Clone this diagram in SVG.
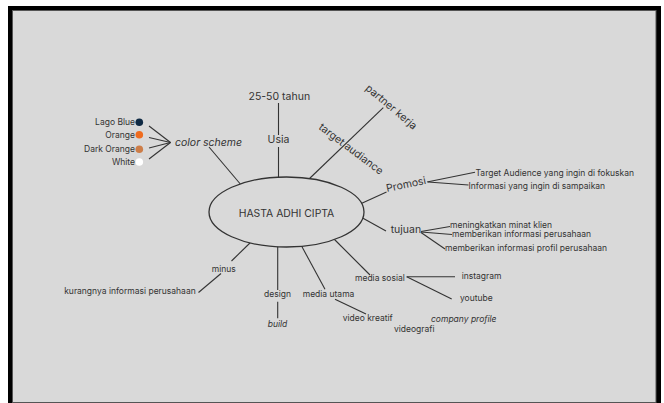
<svg xmlns="http://www.w3.org/2000/svg" width="664" height="403" viewBox="0 0 664 403">
<style>
.t{font-family:Inter,"Liberation Sans",sans-serif;fill:#333;font-size:8.5px}
.l{font-size:10.5px}
.i{font-style:italic}
.c line{stroke:#333;stroke-width:1.1;fill:none}
</style>
<rect width="664" height="403" fill="#fff"/>
<rect x="8" y="6" width="653" height="400" fill="#000"/>
<rect x="12.5" y="10.5" width="643.5" height="392" fill="#d9d9d9" stroke="#555"/>
<g id="connectors" class="c">
<line x1="149" y1="126" x2="170.5" y2="142.5"/>
<line x1="149" y1="137.5" x2="170.5" y2="142.5"/>
<line x1="149" y1="148" x2="170.5" y2="142.5"/>
<line x1="149" y1="159" x2="170.5" y2="142.5"/>
<line x1="209" y1="147" x2="242" y2="186"/>
<line x1="278.5" y1="103" x2="278.5" y2="135"/>
<line x1="278.5" y1="147" x2="278.5" y2="180"/>
<line x1="308" y1="180" x2="383.3" y2="107.7"/>
<line x1="358" y1="205" x2="386.5" y2="192"/>
<line x1="427" y1="182" x2="475" y2="172.3"/>
<line x1="428" y1="182" x2="468.5" y2="185"/>
<line x1="359" y1="216" x2="386" y2="231"/>
<line x1="421" y1="231.5" x2="450" y2="226.5"/>
<line x1="421" y1="232" x2="452" y2="234.5"/>
<line x1="421" y1="232.5" x2="445" y2="249"/>
<line x1="252" y1="241" x2="231.5" y2="261"/>
<line x1="221" y1="273.5" x2="198.5" y2="292.5"/>
<line x1="277.7" y1="244" x2="277.7" y2="290"/>
<line x1="277.7" y1="301.7" x2="277.7" y2="318.3"/>
<line x1="300.5" y1="244" x2="325" y2="289.3"/>
<line x1="335" y1="299.3" x2="366" y2="314"/>
<line x1="333" y1="238" x2="370" y2="275"/>
<line x1="406.7" y1="276.7" x2="455" y2="276.7"/>
<line x1="406.7" y1="276.7" x2="451.7" y2="299"/>
</g>
<g id="hasta-adhi-cipta">
<ellipse cx="286.5" cy="212" rx="77.5" ry="35" fill="#d9d9d9" stroke="#333" stroke-width="1.3"/>
<text class="t" x="286.5" y="216.6" text-anchor="middle" style="font-size:10.4px">HASTA ADHI CIPTA</text>
</g>
<g id="color-scheme"><text class="t l i" x="175" y="146">color scheme</text></g>
<g id="lago-blue"><text class="t" x="135" y="125.3" text-anchor="end">Lago Blue</text><circle cx="139.3" cy="122.3" r="3.8" fill="#0f2a44"/></g>
<g id="orange"><text class="t" x="135" y="137.7" text-anchor="end">Orange</text><circle cx="139.3" cy="134.7" r="3.8" fill="#ef6c1f"/></g>
<g id="dark-orange"><text class="t" x="135" y="152.3" text-anchor="end">Dark Orange</text><circle cx="139.3" cy="149.3" r="3.8" fill="#cd7d48"/></g>
<g id="white"><text class="t" x="135" y="165" text-anchor="end">White</text><circle cx="139.3" cy="162" r="3.8" fill="#fff"/></g>
<g id="usia"><text class="t l" x="278.5" y="143.3" text-anchor="middle">Usia</text></g>
<g id="umur"><text class="t l" x="279.3" y="100" text-anchor="middle">25-50 tahun</text></g>
<g id="target-audiance"><text class="t l" transform="translate(318 128.5) rotate(37)">target audiance</text></g>
<g id="partner-kerja"><text class="t l" transform="translate(364.8 89.2) rotate(40)">partner kerja</text></g>
<g id="promosi"><text class="t l" transform="translate(387 192) rotate(-11.7)">Promosi</text></g>
<g id="target-fokus"><text class="t" x="475.5" y="176">Target Audience yang ingin di fokuskan</text></g>
<g id="informasi-sampaikan"><text class="t" x="468.5" y="188.5">Informasi yang ingin di sampaikan</text></g>
<g id="tujuan"><text class="t l" x="390.7" y="233.3">tujuan</text></g>
<g id="minat-klien"><text class="t" x="450" y="228">meningkatkan minat klien</text></g>
<g id="info-perusahaan"><text class="t" x="452" y="236.7">memberikan informasi perusahaan</text></g>
<g id="profil-perusahaan"><text class="t" x="445" y="250.7">memberikan informasi profil perusahaan</text></g>
<g id="minus"><text class="t" x="211.7" y="271.7">minus</text></g>
<g id="kurang-info"><text class="t" x="195.7" y="294.3" text-anchor="end">kurangnya informasi perusahaan</text></g>
<g id="design"><text class="t" x="264" y="297.3">design</text></g>
<g id="build"><text class="t i" x="267.7" y="327.3">build</text></g>
<g id="media-utama"><text class="t" x="302.7" y="296.7">media utama</text></g>
<g id="video-kreatif"><text class="t" x="342.7" y="321">video kreatif</text></g>
<g id="videografi"><text class="t" x="394" y="331.7">videografi</text></g>
<g id="company-profile"><text class="t i" x="431" y="321.7">company profile</text></g>
<g id="media-sosial"><text class="t" x="355" y="281">media sosial</text></g>
<g id="instagram"><text class="t" x="461.7" y="279.3">instagram</text></g>
<g id="youtube"><text class="t" x="460" y="300.7">youtube</text></g>
</svg>
